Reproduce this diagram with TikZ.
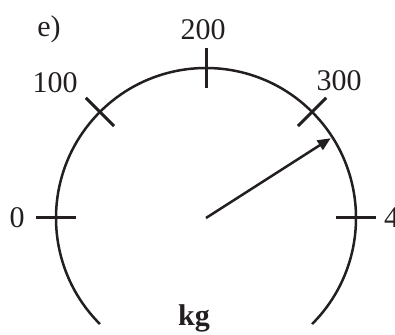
\documentclass[tikz,border=0pt]{standalone}
\usepackage{fontspec}
\setmainfont{Liberation Serif}
\usetikzlibrary{arrows.meta,calc}
\definecolor{ink}{RGB}{35,31,32}
\begin{document}
\begin{tikzpicture}[x=1pt,y=1pt,
  dial/.style={draw=ink,line width=2.5pt},
  tick/.style={draw=ink,line width=3pt},
  lbl/.style={inner sep=0pt,text=ink,font=\fontsize{30}{30}\selectfont},
  pointer/.style={draw=ink,line width=2.5pt,-{Triangle[length=13pt,width=11pt]}}]
\useasboundingbox (0,0) rectangle (395,334);
\clip (0,0) rectangle (395,334);
\coordinate (c) at (206,116);
\draw[dial] ($(c)+(-45:150)$) arc[start angle=-45,end angle=225,radius=150];
\foreach \a/\n in {180/t0,135/t1,90/t2,45/t3,0/t4}{
  \coordinate (\n a) at ($(c)+(\a:130)$);
  \coordinate (\n b) at ($(c)+(\a:170)$);
  \draw[tick] (\n a) -- (\n b);
}
\coordinate (tip) at ($(c)+(32.6:148)$);
\draw[pointer] (c) -- (tip);
\node[lbl] (le) at (49,305) {e)};
\node[lbl] (l0) at (17,116) {0};
\node[lbl] (l100) at (55,251) {100};
\node[lbl] (l200) at (203,304) {200};
\node[lbl] (l300) at (339,253) {300};
\node[lbl,anchor=west] (l400) at (384,116) {400};
\node[lbl,anchor=base,font=\fontsize{30}{30}\selectfont\bfseries] (kg) at (194,9) {kg};
\end{tikzpicture}
\end{document}
